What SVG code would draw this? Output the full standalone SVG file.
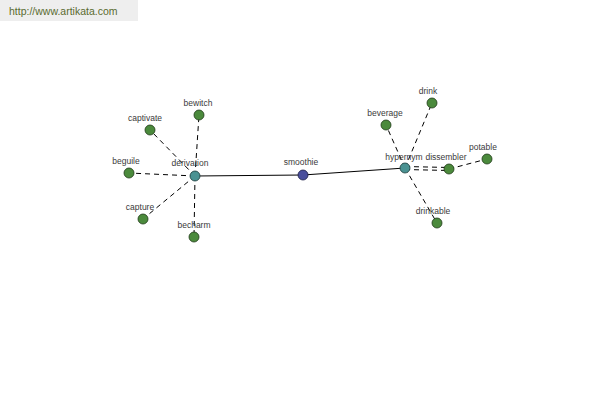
<svg xmlns="http://www.w3.org/2000/svg" width="600" height="400" viewBox="0 0 600 400">
<style>
.bg{fill:#ffffff}
.url{fill:#5a6b2e;font-family:"Liberation Sans",Arial,sans-serif;font-size:10.5px}
.lbl{fill:#3a3a3a;font-family:"Liberation Sans",Arial,sans-serif;font-size:8.5px;text-anchor:middle}
.solid{stroke:#000;stroke-width:1;fill:none}
.dash{stroke:#000;stroke-width:1;fill:none;stroke-dasharray:5,4}
.leaf{fill:#4b8a3c;stroke:#1f3a18;stroke-width:0.8}
.hub{fill:#4a9292;stroke:#1d3c3c;stroke-width:0.8}
.root{fill:#4a4f9c;stroke:#1c1e44;stroke-width:0.8}
</style>
<rect class="bg" x="0" y="0" width="600" height="400"/>
<g id="header">
<rect x="0" y="0" width="138" height="21" fill="#eeeeee"/>
<text class="url" x="9" y="15">http://www.artikata.com</text>
</g>
<g id="connectors">
<line class="solid" x1="195" y1="176" x2="303" y2="175"/>
<line class="solid" x1="303" y1="175" x2="405" y2="168"/>
<line class="dash" x1="195" y1="176" x2="199" y2="115"/>
<line class="dash" x1="195" y1="176" x2="150" y2="130"/>
<line class="dash" x1="195" y1="176" x2="129" y2="173"/>
<line class="dash" x1="195" y1="176" x2="143" y2="219"/>
<line class="dash" x1="195" y1="176" x2="194" y2="237"/>
<line class="dash" x1="405" y1="168" x2="432" y2="103"/>
<line class="dash" x1="405" y1="168" x2="386" y2="125"/>
<line class="dash" x1="405" y1="166.5" x2="449" y2="167.5"/>
<line class="dash" x1="405" y1="169.5" x2="449" y2="170.5"/>
<line class="dash" x1="449" y1="169" x2="487" y2="159"/>
<line class="dash" x1="405" y1="168" x2="437" y2="223"/>
</g>
<g id="node-derivation"><circle class="hub" cx="195" cy="176" r="5"/><text class="lbl" x="190" y="166">derivation</text></g>
<g id="node-smoothie"><circle class="root" cx="303" cy="175" r="5"/><text class="lbl" x="301" y="165">smoothie</text></g>
<g id="node-hypernym"><circle class="hub" cx="405" cy="168" r="5"/><text class="lbl" x="404" y="160">hypernym</text></g>
<g id="node-bewitch"><circle class="leaf" cx="199" cy="115" r="5"/><text class="lbl" x="198" y="106">bewitch</text></g>
<g id="node-captivate"><circle class="leaf" cx="150" cy="130" r="5"/><text class="lbl" x="145" y="121">captivate</text></g>
<g id="node-beguile"><circle class="leaf" cx="129" cy="173" r="5"/><text class="lbl" x="126" y="164">beguile</text></g>
<g id="node-capture"><circle class="leaf" cx="143" cy="219" r="5"/><text class="lbl" x="140" y="210">capture</text></g>
<g id="node-becharm"><circle class="leaf" cx="194" cy="237" r="5"/><text class="lbl" x="194" y="228">becharm</text></g>
<g id="node-drink"><circle class="leaf" cx="432" cy="103" r="5"/><text class="lbl" x="428" y="94">drink</text></g>
<g id="node-beverage"><circle class="leaf" cx="386" cy="125" r="5"/><text class="lbl" x="385" y="116">beverage</text></g>
<g id="node-dissembler"><circle class="leaf" cx="449" cy="169" r="5"/><text class="lbl" x="446" y="160">dissembler</text></g>
<g id="node-potable"><circle class="leaf" cx="487" cy="159" r="5"/><text class="lbl" x="483" y="150">potable</text></g>
<g id="node-drinkable"><circle class="leaf" cx="437" cy="223" r="5"/><text class="lbl" x="433" y="214">drinkable</text></g>
</svg>
